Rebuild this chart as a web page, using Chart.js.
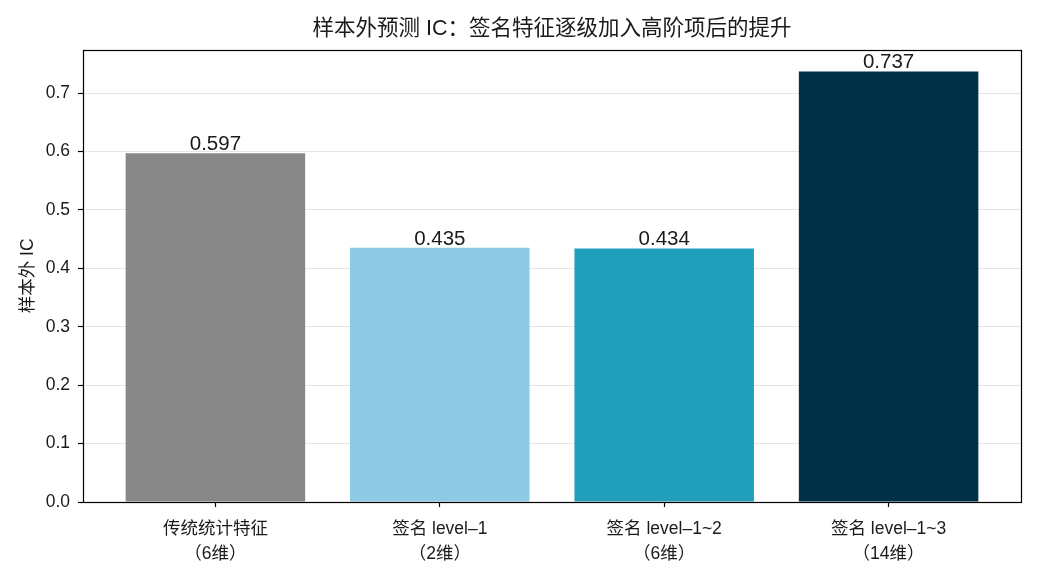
<!DOCTYPE html>
<html>
<head>
<meta charset="utf-8">
<script src="https://cdn.jsdelivr.net/npm/chart.js@4/dist/chart.umd.min.js"></script>
<style>
  body { margin: 0; background: #fff; }
  #wrap { width: 1040px; height: 585px; }
</style>
</head>
<body>
<div id="wrap"><canvas id="icChart"></canvas></div>
<script>
// data
const categories = ['传统统计特征', '签名 level–1', '签名 level–1~2', '签名 level–1~3'];
const dims = ['（6维）', '（2维）', '（6维）', '（14维）'];
const icValues = [0.597, 0.435, 0.434, 0.737];
const barColors = ['#888888', '#8ecae6', '#219ebc', '#023047'];
const yTickValues = [0.0, 0.1, 0.2, 0.3, 0.4, 0.5, 0.6, 0.7];
const xPositions = [0, 1, 2, 3];

const FONT = "'Liberation Sans', 'Noto Sans CJK SC', sans-serif";

// numbers on top of each bar
const valueLabels = {
  id: 'valueLabels',
  afterDatasetsDraw(chart) {
    const ctx = chart.ctx;
    const meta = chart.getDatasetMeta(0);
    ctx.save();
    ctx.font = '20.5px ' + FONT;
    ctx.fillStyle = '#1a1a1a';
    ctx.textAlign = 'center';
    ctx.textBaseline = 'alphabetic';
    meta.data.forEach((bar, i) => {
      ctx.fillText(icValues[i].toFixed(3), bar.x, bar.y - 3);
    });
    ctx.restore();
  }
};

// matplotlib style box round the plot
const frame = {
  id: 'frame',
  afterDraw(chart) {
    const a = chart.chartArea;
    const ctx = chart.ctx;
    ctx.save();
    ctx.strokeStyle = '#000';
    ctx.lineWidth = 1.2;
    ctx.strokeRect(Math.round(a.left) + 0.5, Math.round(a.top) + 0.5,
      Math.round(a.right - a.left), Math.round(a.bottom - a.top));
    ctx.restore();
  }
};

new Chart(document.getElementById('icChart').getContext('2d'), {
  type: 'bar',
  data: {
    datasets: [{
      data: xPositions.map((x, i) => ({ x: x, y: icValues[i] })),
      backgroundColor: barColors,
      borderWidth: 0,
      barPercentage: 0.8,
      categoryPercentage: 1.0
    }]
  },
  options: {
    responsive: true,
    maintainAspectRatio: false,
    animation: false,
    devicePixelRatio: 1,
    layout: { padding: { left: 0, right: 19, top: 0, bottom: 0 } },
    plugins: {
      legend: { display: false },
      tooltip: { enabled: false },
      title: {
        display: true,
        fullSize: false,
        text: '样本外预测 IC：签名特征逐级加入高阶项后的提升',
        color: '#1a1a1a',
        font: { family: FONT, size: 21.5, weight: 'normal', lineHeight: 1.2 },
        padding: { top: 16, bottom: 8 }
      }
    },
    scales: {
      x: {
        type: 'linear',
        min: -0.59,
        max: 3.59,
        offset: false,
        afterBuildTicks: s => { s.ticks = xPositions.map(v => ({ value: v })); },
        afterFit: s => { s.height = 83; },
        border: { display: false },
        grid: { offset: false, drawOnChartArea: false, tickLength: 5, tickColor: '#000', tickWidth: 1.2 },
        ticks: {
          color: '#1a1a1a',
          padding: 9,
          maxRotation: 0,
          autoSkip: false,
          font: { family: FONT, size: 17.5, lineHeight: 1.46 },
          callback: v => [categories[v], dims[v]]
        }
      },
      y: {
        min: 0,
        max: 0.774,
        z: 1,
        afterBuildTicks: s => { s.ticks = yTickValues.map(v => ({ value: v })); },
        afterFit: s => { s.width = 83; },
        border: { display: false },
        grid: { color: 'rgba(150,150,150,0.25)', lineWidth: 1, tickLength: 5, tickColor: '#000', tickWidth: 1.2 },
        ticks: {
          color: '#1a1a1a',
          padding: 8,
          font: { family: FONT, size: 17.5 },
          callback: v => v.toFixed(1)
        },
        title: {
          display: true,
          text: '样本外 IC',
          color: '#1a1a1a',
          font: { family: FONT, size: 17.5, lineHeight: 1.2 },
          padding: { top: 18, bottom: 4 }
        }
      }
    }
  },
  plugins: [valueLabels, frame]
});
</script>
</body>
</html>
